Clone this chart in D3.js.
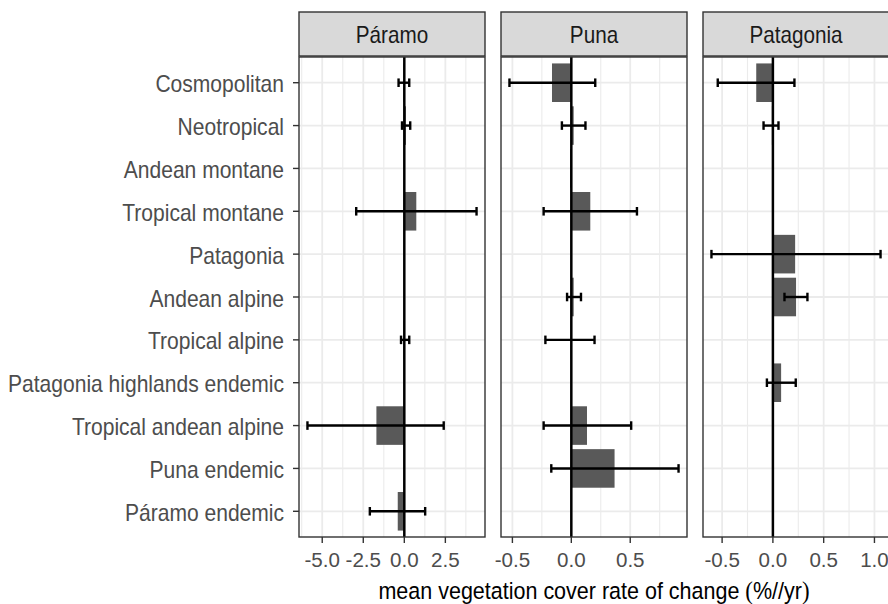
<!DOCTYPE html>
<html><head><meta charset="utf-8">
<script src="https://cdn.jsdelivr.net/npm/d3@7"></script>
<style>body{margin:0;background:#fff}svg{display:block}</style></head>
<body><svg id="c" width="888" height="604"></svg>
<script>
const categories = ["Cosmopolitan","Neotropical","Andean montane","Tropical montane","Patagonia","Andean alpine","Tropical alpine","Patagonia highlands endemic","Tropical andean alpine","Puna endemic","Páramo endemic"];
const panels = ["Páramo","Puna","Patagonia"];

const paramoMean  = [-0.05, 0.1, null, 0.73, null, null, -0.05, null, -1.7, null, -0.4];
const paramoLower = [-0.35, -0.14, null, -2.93, null, null, -0.2, null, -5.9, null, -2.1];
const paramoUpper = [0.3, 0.36, null, 4.4, null, null, 0.3, null, 2.4, null, 1.27];

const punaMean  = [-0.164, 0.02, -0.01, 0.161, null, 0.02, -0.005, null, 0.133, 0.367, null];
const punaLower = [-0.525, -0.08, null, -0.235, null, -0.036, -0.22, null, -0.235, -0.17, null];
const punaUpper = [0.203, 0.12, null, 0.557, null, 0.082, 0.197, null, 0.508, 0.91, null];

const patagoniaMean  = [-0.164, -0.01, null, null, 0.219, 0.228, null, 0.081, null, null, null];
const patagoniaLower = [-0.543, -0.092, null, null, -0.605, 0.114, null, -0.059, null, null, null];
const patagoniaUpper = [0.212, 0.055, null, null, 1.06, 0.34, null, 0.225, null, null, null];

const paramoTicks = [-5, -2.5, 0, 2.5];
const punaTicks = [-0.5, 0, 0.5];
const patagoniaTicks = [-0.5, 0, 0.5, 1.0];

const xTitle = ["mean vegetation cover rate of change ", "(", "%//yr", ")"];

const panelData = [
  {name: panels[0], mean: paramoMean, lower: paramoLower, upper: paramoUpper, ticks: paramoTicks},
  {name: panels[1], mean: punaMean, lower: punaLower, upper: punaUpper, ticks: punaTicks},
  {name: panels[2], mean: patagoniaMean, lower: patagoniaLower, upper: patagoniaUpper, ticks: patagoniaTicks}
];

const svg = d3.select("#c");
const FONT = "'Liberation Sans', Arial, sans-serif";
const panelTop = 57, panelBottom = 537, panelW = 186, gap = 16, firstLeft = 299;
const stripTop = 12;

const y = d3.scalePoint().domain(categories).range([panelTop, panelBottom]).padding(0.6);
const step = y.step();

function txt(g, x, yy, s, size, sx, anchor, fill) {
  return g.append("text")
    .attr("transform", `translate(${x},${yy}) scale(${sx},1)`)
    .attr("font-family", FONT).attr("font-size", size)
    .attr("text-anchor", anchor).attr("fill", fill).text(s);
}
const fmt = v => d3.format(".1f")(v).replace("\u2212", "-");

panelData.forEach((p, i) => {
  const left = firstLeft + i * (panelW + gap);
  const vals = [];
  categories.forEach((c, k) => {
    [p.mean[k], p.lower[k], p.upper[k]].forEach(v => { if (v !== null) vals.push(v); });
  });
  const ext = d3.extent(vals);
  const pad = (ext[1] - ext[0]) * 0.05;
  const x = d3.scaleLinear().domain([ext[0] - pad, ext[1] + pad]).range([left, left + panelW]);
  const g = svg.append("g");

  g.append("rect").attr("x", left).attr("y", panelTop).attr("width", panelW).attr("height", panelBottom - panelTop).attr("fill", "#fff");

  // minor grid
  const tstep = p.ticks[1] - p.ticks[0];
  const minors = [];
  for (let t = p.ticks[0] - tstep / 2; t <= p.ticks[p.ticks.length - 1] + tstep; t += tstep) minors.push(t);
  const dom = x.domain();
  g.selectAll(".minor").data(minors.filter(t => t > dom[0] && t < dom[1])).enter().append("line")
    .attr("x1", d => x(d)).attr("x2", d => x(d)).attr("y1", panelTop).attr("y2", panelBottom)
    .attr("stroke", "#ebebeb").attr("stroke-width", 1.1);
  g.selectAll(".majx").data(p.ticks).enter().append("line")
    .attr("x1", d => x(d)).attr("x2", d => x(d)).attr("y1", panelTop).attr("y2", panelBottom)
    .attr("stroke", "#ebebeb").attr("stroke-width", 1.8);
  g.selectAll(".majy").data(categories).enter().append("line")
    .attr("x1", left).attr("x2", left + panelW).attr("y1", d => y(d)).attr("y2", d => y(d))
    .attr("stroke", "#ebebeb").attr("stroke-width", 1.8);

  const rows = categories.map((c, k) => ({c, m: p.mean[k], lo: p.lower[k], hi: p.upper[k]}));

  g.selectAll(".bar").data(rows.filter(r => r.m !== null)).enter().append("rect")
    .attr("x", r => Math.min(x(0), x(r.m)))
    .attr("width", r => Math.max(0.8, Math.abs(x(r.m) - x(0))))
    .attr("y", r => y(r.c) - step * 0.45).attr("height", step * 0.9)
    .attr("fill", "#595959");

  g.append("line").attr("x1", x(0)).attr("x2", x(0)).attr("y1", panelTop).attr("y2", panelBottom)
    .attr("stroke", "#000").attr("stroke-width", 2.5);

  const eb = rows.filter(r => r.lo !== null);
  const capH = step * 0.1;
  g.selectAll(".eh").data(eb).enter().append("line")
    .attr("x1", r => x(r.lo)).attr("x2", r => x(r.hi)).attr("y1", r => y(r.c)).attr("y2", r => y(r.c))
    .attr("stroke", "#000").attr("stroke-width", 2.4);
  ["lo", "hi"].forEach(key => {
    g.selectAll(".cap" + key).data(eb).enter().append("line")
      .attr("x1", r => x(r[key])).attr("x2", r => x(r[key]))
      .attr("y1", r => y(r.c) - capH).attr("y2", r => y(r.c) + capH)
      .attr("stroke", "#000").attr("stroke-width", 2.4);
  });

  g.append("rect").attr("x", left).attr("y", panelTop).attr("width", panelW).attr("height", panelBottom - panelTop)
    .attr("fill", "none").attr("stroke", "#333").attr("stroke-width", 1.4);

  g.append("rect").attr("x", left).attr("y", stripTop).attr("width", panelW).attr("height", panelTop - stripTop - 1)
    .attr("fill", "#d9d9d9").attr("stroke", "#333").attr("stroke-width", 1.4);
  txt(g, left + panelW / 2, 43.3, p.name, 23, 0.9, "middle", "#1a1a1a");

  p.ticks.forEach(t => {
    g.append("line").attr("x1", x(t)).attr("x2", x(t)).attr("y1", panelBottom).attr("y2", panelBottom + 6)
      .attr("stroke", "#333").attr("stroke-width", 1.4);
    txt(g, x(t), 566.5, fmt(t), 21, 0.98, "middle", "#4d4d4d");
  });

  if (i === 0) {
    categories.forEach(c => {
      g.append("line").attr("x1", left - 6).attr("x2", left).attr("y1", y(c)).attr("y2", y(c))
        .attr("stroke", "#333").attr("stroke-width", 1.4);
      txt(g, left - 15, y(c) + 9.5, c, 23, 0.915, "end", "#4d4d4d");
    });
  }
});

const tg = svg.append("text")
  .attr("transform", `translate(594,599) scale(0.915,1)`)
  .attr("font-family", FONT).attr("font-size", 23.5).attr("text-anchor", "middle").attr("fill", "#000");
tg.append("tspan").text(xTitle[0]);
tg.append("tspan").attr("font-family", "'Liberation Serif', serif").attr("font-size", 25).text(xTitle[1]);
tg.append("tspan").text(xTitle[2]);
tg.append("tspan").attr("font-family", "'Liberation Serif', serif").attr("font-size", 25).text(xTitle[3]);
</script>
</body></html>
